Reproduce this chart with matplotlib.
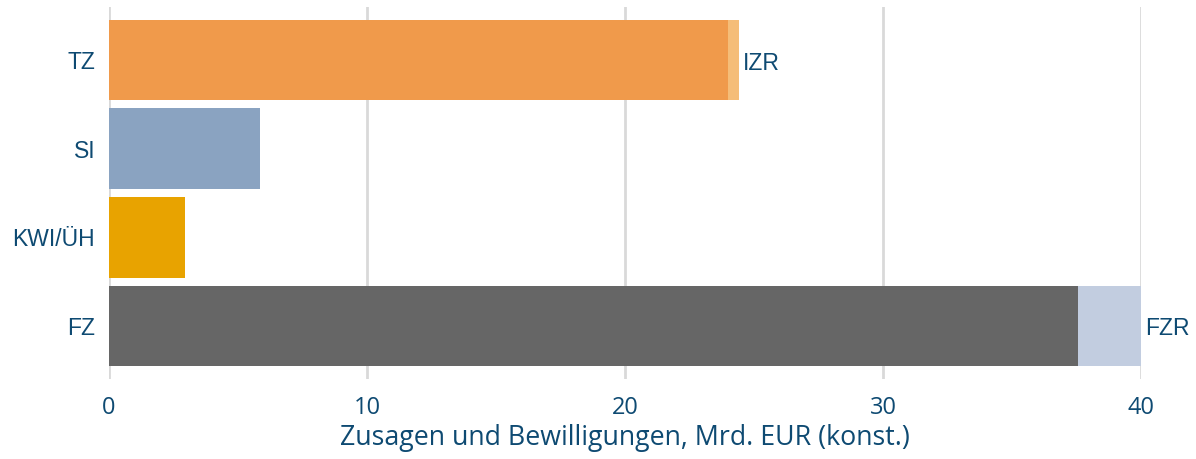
import matplotlib
matplotlib.use("Agg")
import matplotlib.pyplot as plt
from matplotlib.transforms import ScaledTranslation

categories = ["FZ", "KWI/ÜH", "SI", "TZ"]
main_values = [37.55, 2.95, 5.85, 24.0]
extra_values = [2.45, 0.0, 0.0, 0.4]
extra_labels = ["FZR", "", "", "IZR"]
main_colors = ["#666666", "#e8a300", "#8aa3c1", "#f09a4b"]
extra_colors = ["#c2cde0", "#ffffff", "#ffffff", "#f5bd78"]
xticks = [0, 10, 20, 30, 40]

TEXT = "#0e4a72"

fig = plt.figure(figsize=(11.96, 4.59), dpi=100)
ax = fig.add_axes([109/1196, 80/459, (1141-109)/1196, (379-7)/459])

down = ScaledTranslation(0, -3/100, fig.dpi_scale_trans)

ypos = list(range(len(categories)))
ax.barh(ypos, main_values, height=0.91, color=main_colors, zorder=2)
for y, m, e, lab, c in zip(ypos, main_values, extra_values, extra_labels, extra_colors):
    if e > 0:
        ax.barh(y, e, left=m, height=0.91, color=c, zorder=2)
        ax.text(m + e + 0.15, y, lab, va="center", ha="left", color=TEXT,
                fontsize=16.5, family="Liberation Sans",
                transform=ax.transData + down)

ax.set_xlim(0, 40)
ax.set_ylim(-0.6, 3.6)
ax.set_xticks(xticks)
ax.set_yticks(ypos)
ax.set_yticklabels(categories, family="Liberation Sans", fontsize=16.5, color=TEXT)
for t in ax.get_yticklabels():
    t.set_transform(t.get_transform() + down)
ax.set_xticklabels([str(t) for t in xticks], family="Open Sans", fontsize=17, color=TEXT)
ax.tick_params(axis="both", length=0)
ax.tick_params(axis="y", pad=10)
ax.tick_params(axis="x", pad=12)
ax.set_xlabel("Zusagen und Bewilligungen, Mrd. EUR (konst.)", family="Open Sans",
              fontsize=19.3, color=TEXT, labelpad=3)
ax.grid(axis="x", color="#d9d9d9", linewidth=2, zorder=0)
ax.set_axisbelow(True)
for s in ax.spines.values():
    s.set_visible(False)

fig.savefig("out.png", dpi=100)
